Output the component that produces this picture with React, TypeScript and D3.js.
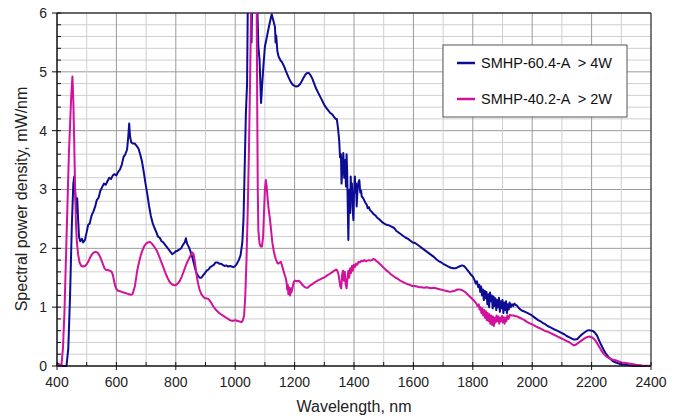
import React from "react";
import * as d3 from "d3";

const seriesNames = ["SMHP-60.4-A  > 4W", "SMHP-40.2-A  > 2W"];
const seriesColors = ["#0c0c94", "#d0139c"];
const xTicks = [400, 600, 800, 1000, 1200, 1400, 1600, 1800, 2000, 2200, 2400];
const yTicks = [0, 1, 2, 3, 4, 5, 6];

// [wavelength nm, spectral power density mW/nm]
const blueSpectrum: [number, number][] = [
  [400,0.05],[410,0.02],[420,0],[432,0],[438,0.3],[444,1.2],[450,2.4],[455,3.1],[458,3.22],[462,2.9],[466,2.6],[468,2.85],[471,2.5],[474,2.2],[478,2.12],[484,2.16],[488,2.1],[494,2.14],[500,2.28],[505,2.4],[510,2.42],[516,2.55],[522,2.62],[528,2.7],[534,2.82],[540,2.86],[546,2.98],[552,3.04],[558,3.1],[564,3.08],[570,3.14],[576,3.2],[582,3.18],[588,3.24],[594,3.26],[600,3.24],[606,3.3],[612,3.34],[618,3.42],[624,3.55],[630,3.6],[636,3.68],[640,3.9],[643,4.12],[646,3.9],[650,3.8],[656,3.78],[662,3.78],[668,3.74],[674,3.7],[680,3.6],[686,3.48],[692,3.3],[698,3.1],[704,2.92],[710,2.72],[716,2.55],[722,2.43],[728,2.35],[734,2.28],[740,2.2],[746,2.18],[752,2.12],[758,2.1],[764,2.06],[770,2.02],[776,1.98],[782,1.94],[788,1.9],[794,1.92],[800,1.95],[806,1.96],[812,1.98],[818,2.0],[824,2.06],[830,2.1],[834,2.17],[838,2.08],[844,2.02],[850,1.94],[856,1.84],[862,1.72],[868,1.6],[874,1.54],[880,1.5],[886,1.5],[892,1.54],[898,1.58],[904,1.62],[910,1.64],[916,1.68],[922,1.7],[928,1.72],[934,1.76],[940,1.76],[946,1.74],[952,1.74],[958,1.72],[964,1.7],[970,1.71],[976,1.69],[982,1.7],[988,1.69],[994,1.68],[1000,1.7],[1006,1.74],[1012,1.8],[1018,1.88],[1024,2.1],[1028,2.5],[1032,3.4],[1036,4.3],[1040,4.8],[1043,6.5],[1048,7.5],[1052,6.3],[1055,5.5],[1058,6.5],[1064,7.5],[1070,7],[1074,6.2],[1078,5.43],[1082,5.2],[1087,4.47],[1091,4.8],[1095,5.1],[1100,5.43],[1105,5.55],[1110,5.68],[1115,5.8],[1120,5.92],[1123,5.98],[1127,5.9],[1131,5.82],[1134,5.76],[1136,5.5],[1138,5.62],[1142,5.35],[1146,5.26],[1152,5.2],[1158,5.16],[1164,5.1],[1170,5.02],[1176,4.95],[1182,4.88],[1188,4.82],[1194,4.78],[1200,4.76],[1206,4.75],[1212,4.76],[1218,4.79],[1224,4.84],[1230,4.9],[1236,4.95],[1242,4.98],[1248,4.98],[1254,4.94],[1260,4.88],[1266,4.8],[1272,4.72],[1278,4.66],[1284,4.6],[1290,4.54],[1296,4.48],[1302,4.42],[1308,4.38],[1314,4.34],[1320,4.3],[1326,4.28],[1332,4.24],[1338,4.2],[1342,4.2],[1346,4.05],[1350,3.84],[1353,3.55],[1356,3.6],[1358,3.1],[1361,3.4],[1364,3.62],[1367,3.2],[1370,3.5],[1373,3.05],[1375,3.6],[1377,3.3],[1379,2.7],[1381,2.14],[1383,2.8],[1385,3.0],[1387,2.6],[1389,3.22],[1391,2.9],[1393,3.1],[1395,2.7],[1398,2.48],[1400,2.9],[1403,3.22],[1405,2.95],[1407,3.1],[1409,2.71],[1412,3.0],[1415,3.12],[1418,3.16],[1421,2.95],[1424,2.98],[1426,2.88],[1430,2.86],[1434,2.82],[1438,2.78],[1443,2.74],[1446,2.68],[1450,2.7],[1454,2.65],[1460,2.62],[1466,2.58],[1472,2.56],[1478,2.52],[1484,2.5],[1490,2.47],[1496,2.44],[1502,2.42],[1510,2.4],[1518,2.39],[1526,2.37],[1534,2.35],[1542,2.3],[1550,2.27],[1558,2.24],[1566,2.21],[1574,2.18],[1582,2.16],[1590,2.13],[1598,2.1],[1606,2.09],[1614,2.06],[1622,2.03],[1630,2.0],[1638,1.97],[1646,1.94],[1654,1.91],[1662,1.88],[1670,1.85],[1678,1.81],[1686,1.78],[1694,1.76],[1702,1.73],[1710,1.71],[1718,1.69],[1726,1.67],[1734,1.66],[1742,1.66],[1750,1.68],[1758,1.7],[1764,1.71],[1770,1.7],[1776,1.67],[1782,1.63],[1788,1.59],[1794,1.55],[1800,1.52],[1806,1.46],[1810,1.4],[1814,1.44],[1818,1.34],[1822,1.38],[1825,1.26],[1828,1.35],[1831,1.2],[1834,1.3],[1837,1.12],[1840,1.28],[1843,1.15],[1846,1.26],[1849,1.05],[1852,1.22],[1855,1.0],[1858,1.25],[1861,1.1],[1864,1.2],[1867,0.98],[1870,1.18],[1873,1.02],[1876,1.15],[1879,0.95],[1882,1.12],[1885,1.0],[1888,1.16],[1891,0.92],[1894,1.1],[1897,0.98],[1900,1.12],[1903,0.9],[1906,1.08],[1909,0.95],[1912,1.1],[1915,0.9],[1918,1.05],[1921,0.96],[1924,1.08],[1928,1.0],[1932,1.05],[1936,1.02],[1940,1.06],[1944,1.04],[1948,1.03],[1954,0.99],[1960,0.96],[1966,0.94],[1972,0.93],[1980,0.91],[1988,0.89],[1996,0.87],[2004,0.84],[2012,0.81],[2020,0.78],[2028,0.76],[2036,0.73],[2044,0.71],[2052,0.68],[2060,0.66],[2068,0.64],[2076,0.62],[2084,0.6],[2092,0.58],[2100,0.56],[2108,0.54],[2116,0.51],[2124,0.49],[2132,0.47],[2140,0.45],[2146,0.45],[2152,0.46],[2160,0.5],[2168,0.54],[2176,0.57],[2184,0.6],[2192,0.61],[2200,0.6],[2206,0.59],[2212,0.56],[2218,0.52],[2224,0.45],[2232,0.36],[2240,0.28],[2248,0.21],[2256,0.16],[2264,0.12],[2272,0.08],[2282,0.06],[2292,0.04],[2302,0.03],[2314,0.02],[2330,0.01],[2350,0],[2400,0]
];

const magentaSpectrum: [number, number][] = [
  [400,0.02],[405,0.03],[410,0.01],[415,0.02],[420,0.3],[425,0.9],[430,1.8],[435,2.7],[440,3.6],[444,4.1],[448,4.6],[452,4.92],[455,4.5],[458,3.8],[461,3.0],[464,2.4],[467,2.1],[471,1.9],[476,1.76],[482,1.7],[488,1.69],[494,1.7],[500,1.73],[506,1.78],[512,1.85],[518,1.9],[524,1.93],[530,1.94],[536,1.93],[542,1.89],[548,1.82],[554,1.74],[560,1.66],[566,1.63],[572,1.63],[578,1.62],[584,1.6],[588,1.55],[592,1.45],[596,1.36],[600,1.31],[606,1.28],[612,1.27],[618,1.26],[624,1.25],[630,1.24],[636,1.23],[642,1.22],[648,1.21],[654,1.22],[658,1.28],[662,1.35],[666,1.48],[670,1.62],[676,1.76],[682,1.88],[688,1.97],[694,2.04],[700,2.08],[706,2.1],[712,2.11],[718,2.09],[724,2.05],[730,2.01],[736,1.96],[742,1.89],[748,1.81],[754,1.73],[760,1.65],[766,1.57],[772,1.5],[778,1.44],[784,1.4],[790,1.38],[796,1.37],[802,1.38],[808,1.41],[814,1.45],[820,1.52],[826,1.6],[832,1.68],[838,1.76],[844,1.82],[848,1.86],[852,1.9],[856,1.93],[860,1.9],[864,1.78],[868,1.62],[872,1.48],[876,1.38],[880,1.3],[886,1.22],[892,1.18],[898,1.15],[904,1.15],[910,1.14],[916,1.1],[922,1.05],[928,1.0],[934,0.96],[940,0.93],[946,0.9],[952,0.88],[958,0.86],[964,0.84],[970,0.82],[976,0.8],[982,0.78],[988,0.77],[994,0.77],[1000,0.78],[1006,0.77],[1012,0.76],[1018,0.75],[1022,0.75],[1026,0.78],[1030,0.86],[1034,1.2],[1038,1.8],[1042,2.6],[1046,3.6],[1050,4.8],[1054,6.2],[1058,8],[1068,8],[1072,6.5],[1074,4.5],[1076,3.0],[1078,2.3],[1082,2.08],[1086,2.03],[1090,2.03],[1094,2.2],[1097,2.6],[1100,3.0],[1103,3.16],[1106,3.05],[1109,2.85],[1113,2.65],[1117,2.5],[1121,2.3],[1125,2.1],[1130,1.95],[1134,1.86],[1138,1.8],[1142,1.75],[1146,1.74],[1150,1.76],[1154,1.77],[1158,1.7],[1162,1.63],[1166,1.56],[1170,1.5],[1173,1.42],[1175,1.3],[1177,1.38],[1179,1.22],[1181,1.34],[1183,1.28],[1185,1.2],[1187,1.32],[1189,1.25],[1192,1.3],[1195,1.38],[1198,1.44],[1202,1.45],[1208,1.44],[1214,1.45],[1220,1.42],[1226,1.38],[1232,1.35],[1238,1.33],[1244,1.33],[1250,1.36],[1256,1.38],[1262,1.4],[1268,1.42],[1274,1.44],[1280,1.46],[1286,1.47],[1292,1.49],[1298,1.5],[1304,1.52],[1310,1.54],[1316,1.56],[1322,1.58],[1328,1.6],[1334,1.62],[1340,1.64],[1344,1.62],[1348,1.55],[1351,1.45],[1354,1.35],[1357,1.32],[1360,1.55],[1363,1.62],[1366,1.45],[1369,1.6],[1372,1.38],[1375,1.32],[1378,1.5],[1381,1.62],[1384,1.5],[1387,1.66],[1390,1.58],[1393,1.7],[1396,1.62],[1399,1.72],[1403,1.68],[1407,1.74],[1411,1.72],[1415,1.77],[1420,1.76],[1425,1.79],[1430,1.78],[1435,1.8],[1440,1.78],[1445,1.79],[1450,1.8],[1455,1.79],[1460,1.8],[1465,1.82],[1470,1.81],[1476,1.78],[1482,1.76],[1488,1.73],[1494,1.7],[1500,1.67],[1508,1.63],[1516,1.6],[1524,1.56],[1532,1.53],[1540,1.5],[1548,1.48],[1556,1.45],[1564,1.43],[1572,1.41],[1580,1.39],[1588,1.38],[1596,1.36],[1604,1.36],[1612,1.35],[1620,1.34],[1628,1.34],[1636,1.33],[1644,1.34],[1652,1.33],[1660,1.32],[1668,1.33],[1676,1.32],[1684,1.31],[1692,1.3],[1700,1.29],[1708,1.28],[1716,1.27],[1724,1.26],[1732,1.27],[1740,1.28],[1748,1.3],[1756,1.3],[1764,1.29],[1770,1.27],[1776,1.25],[1782,1.22],[1788,1.19],[1794,1.16],[1800,1.13],[1806,1.1],[1812,1.06],[1816,1.02],[1820,1.05],[1823,0.96],[1826,1.0],[1829,0.9],[1832,0.98],[1835,0.86],[1838,0.95],[1841,0.82],[1844,0.93],[1847,0.78],[1850,0.9],[1853,0.76],[1856,0.88],[1859,0.72],[1862,0.86],[1865,0.7],[1868,0.84],[1871,0.68],[1874,0.82],[1877,0.74],[1880,0.86],[1883,0.76],[1886,0.84],[1889,0.72],[1892,0.82],[1895,0.76],[1898,0.85],[1901,0.74],[1904,0.83],[1907,0.72],[1910,0.82],[1913,0.76],[1916,0.86],[1920,0.8],[1925,0.87],[1930,0.86],[1936,0.86],[1942,0.85],[1950,0.84],[1958,0.82],[1966,0.8],[1974,0.78],[1982,0.75],[1990,0.73],[1998,0.71],[2006,0.69],[2014,0.67],[2022,0.65],[2030,0.63],[2038,0.61],[2046,0.59],[2054,0.58],[2062,0.56],[2070,0.54],[2078,0.52],[2086,0.5],[2094,0.48],[2102,0.46],[2110,0.44],[2118,0.42],[2126,0.4],[2134,0.37],[2140,0.35],[2146,0.36],[2152,0.38],[2160,0.41],[2168,0.44],[2176,0.47],[2184,0.49],[2192,0.5],[2200,0.49],[2208,0.46],[2216,0.41],[2224,0.34],[2232,0.27],[2240,0.21],[2250,0.16],[2260,0.13],[2270,0.11],[2280,0.1],[2290,0.08],[2300,0.06],[2315,0.05],[2330,0.04],[2350,0.02],[2370,0.01],[2400,0]
];

const W = 683, H = 419;
const M = { left: 57, right: 651, top: 13, bottom: 366 };
const FONT = "'Liberation Sans', Arial, sans-serif";

export default function App() {
  const x = d3.scaleLinear().domain([400, 2400]).range([M.left, M.right]);
  const y = d3.scaleLinear().domain([0, 6]).range([M.bottom, M.top]);
  const line = d3.line<[number, number]>().x(d => x(d[0])).y(d => y(d[1]));
  const xGrid = d3.range(500, 2400, 100);
  const yGrid = d3.range(1, 30).map(i => i * 0.2);
  const xMinor = d3.range(400, 2401, 100);
  const series = [blueSpectrum, magentaSpectrum];

  return (
    <svg width={W} height={H} style={{ position: "fixed", left: 0, top: 0, background: "#fff" }} fontFamily={FONT}>
      <defs>
        <clipPath id="plotclip">
          <rect x={M.left} y={M.top} width={M.right - M.left} height={M.bottom - M.top + 5} />
        </clipPath>
      </defs>
      {/* grid */}
      {yGrid.map((v, i) => {
        const major = Math.abs(v - Math.round(v)) < 1e-6;
        return (
          <line key={"gy" + i} x1={M.left} x2={M.right} y1={y(v)} y2={y(v)}
            stroke={major ? "#9a9a9a" : "#cfcfcf"} strokeWidth={1} />
        );
      })}
      {xGrid.map(v => (
        <line key={"gx" + v} x1={x(v)} x2={x(v)} y1={M.top} y2={M.bottom}
          stroke={v % 200 === 0 ? "#9a9a9a" : "#cfcfcf"} strokeWidth={1} />
      ))}
      {/* frame */}
      <line x1={M.left} x2={M.right} y1={M.top} y2={M.top} stroke="#333" strokeWidth={1.3} />
      <line x1={M.right} x2={M.right} y1={M.top} y2={M.bottom} stroke="#333" strokeWidth={1.3} />
      {/* series */}
      <g clipPath="url(#plotclip)">
        {series.map((s, i) => (
          <path key={i} d={line(s) || ""} fill="none" stroke={seriesColors[i]} strokeWidth={2} strokeLinejoin="round" />
        ))}
      </g>
      {/* axes */}
      <line x1={M.left} x2={M.left} y1={M.top} y2={M.bottom} stroke="#111" strokeWidth={1.5} />
      <line x1={M.left} x2={M.right} y1={M.bottom} y2={M.bottom} stroke="#111" strokeWidth={1.5} />
      {d3.range(0, 31).map(i => (
        <line key={"ymt" + i} x1={M.left} x2={M.left + 4} y1={y(i * 0.2)} y2={y(i * 0.2)} stroke="#111" strokeWidth={1} />
      ))}
      {yTicks.map(v => (
        <g key={"yt" + v}>
          <line x1={M.left - 5} x2={M.left} y1={y(v)} y2={y(v)} stroke="#111" strokeWidth={1} />
          <text x={M.left - 10} y={y(v)} dy="0.35em" textAnchor="end" fontSize={14} fill="#222">{v}</text>
        </g>
      ))}
      {xMinor.map(v => (
        <line key={"xmt" + v} x1={x(v)} x2={x(v)} y1={M.bottom - 4} y2={M.bottom} stroke="#111" strokeWidth={1} />
      ))}
      {xTicks.map(v => (
        <g key={"xt" + v}>
          <line x1={x(v)} x2={x(v)} y1={M.bottom} y2={M.bottom + 4} stroke="#111" strokeWidth={1} />
          <text x={x(v)} y={M.bottom + 21} textAnchor="middle" fontSize={14} fill="#222">{v}</text>
        </g>
      ))}
      {/* axis titles */}
      <text x={(M.left + M.right) / 2} y={412} textAnchor="middle" fontSize={16} fill="#222">Wavelength, nm</text>
      <text transform={`translate(27,199) rotate(-90)`} textAnchor="middle" fontSize={16} fill="#222">
        Spectral power density, mW/nm
      </text>
      {/* legend */}
      <rect x={443} y={45} width={184} height={72} fill="#fff" stroke="#555" strokeWidth={1} />
      {seriesNames.map((n, i) => (
        <g key={"lg" + i}>
          <line x1={457} x2={475} y1={63 + i * 36} y2={63 + i * 36} stroke={seriesColors[i]} strokeWidth={2.5} />
          <text x={481} y={63 + i * 36} dy="0.35em" fontSize={14.5} fill="#111" style={{ whiteSpace: "pre" }}>{n}</text>
        </g>
      ))}
    </svg>
  );
}
